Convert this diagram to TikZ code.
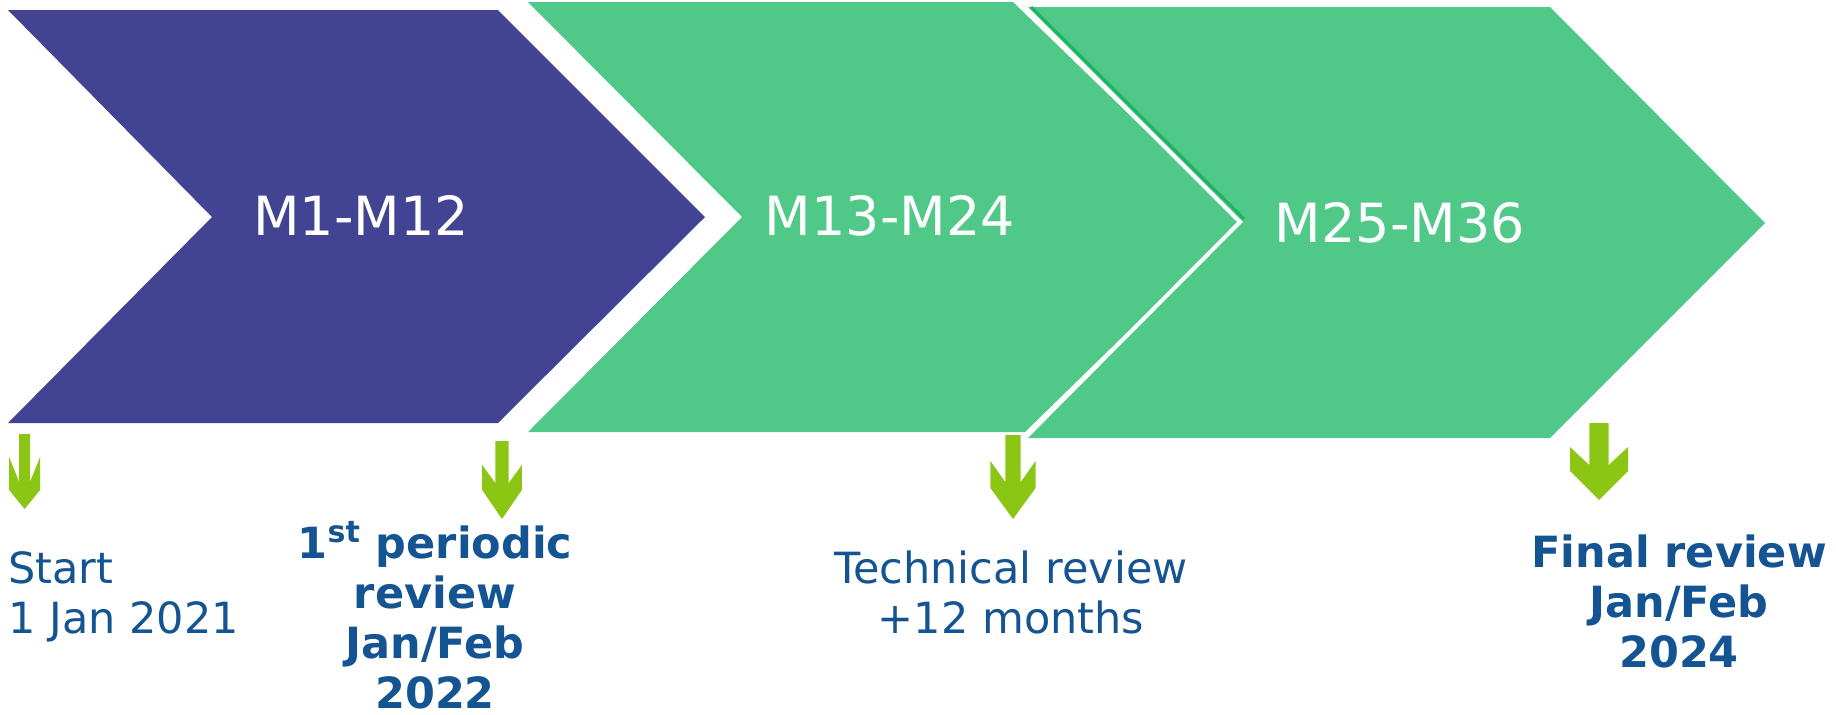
\documentclass[tikz,border=0pt]{standalone}
\usepackage{fontspec}
\setmainfont{DejaVu Sans}

\definecolor{phasepurple}{RGB}{67,67,147}
\definecolor{phasegreen}{RGB}{79,200,136}
\definecolor{edgegreen}{RGB}{28,182,98}
\definecolor{markgreen}{RGB}{140,198,21}
\definecolor{noteblue}{RGB}{21,84,146}

\tikzset{
  phase/.style={text=white, font=\fontsize{27}{32}\selectfont, inner sep=0pt, anchor=base},
  note/.style={text=noteblue, font=\fontsize{21.5}{25}\selectfont, inner sep=0pt, anchor=base, align=center},
  boldnote/.style={note, font=\bfseries\fontsize{21.5}{25}\selectfont}
}

% down arrow: centre x, top y, half shaft, half wing, wing top, shaft bottom, wing bottom, length
\newcommand{\downmark}[8]{%
  \fill[markgreen] ({#1-#3},#2) -- ({#1+#3},#2) -- ({#1+#3},{#2+#6})
    -- ({#1+#4},{#2+#5}) -- ({#1+#4},{#2+#7}) -- (#1,{#2+#8})
    -- ({#1-#4},{#2+#7}) -- ({#1-#4},{#2+#5}) -- ({#1-#3},{#2+#6}) -- cycle;}

\begin{document}
\begin{tikzpicture}[x=0.5pt,y=-0.5pt]
\useasboundingbox (0,0) rectangle (1836,714);

% the three phases
\fill[phasepurple] (8,10) -- (498,10) -- (705,217) -- (498,423) -- (8,423) -- (212,217) -- cycle;
\fill[phasegreen] (528,2) -- (1013,2) -- (1240,222) -- (1025,432) -- (528,432) -- (742,217) -- cycle;
\fill[phasegreen] (1025,7) -- (1550,7) -- (1765,223) -- (1550,438) -- (1025,438) -- (1240,222) -- cycle;
\draw[edgegreen, line width=1.5pt] (1031,7) -- (1244,219);
\draw[white, line width=2pt] (1025,7) -- (1240,222) -- (1025,438);

\node[phase] (m1) at (361,235) {M1-M12};
\node[phase] (m13) at (890,235) {M13-M24};
\node[phase] (m25) at (1400,242) {M25-M36};

% milestones
\downmark{24.6}{434}{5.4}{15.5}{23}{48}{56}{75}
\downmark{502}{441}{6.7}{19.8}{24}{42}{49}{78}
\downmark{1013}{435}{7.7}{22.6}{26}{47}{53}{84}
\downmark{1599}{423}{9.7}{29}{24}{42}{48}{77}

\node[note, anchor=base west, align=left] (start) at (8,633) {Start\\1 Jan 2021};
\node[boldnote] (first) at (435,708) {1\textsuperscript{st} periodic\\review\\Jan/Feb\\2022};
\node[note] (tech) at (1011,633) {Technical review\\+12 months};
\node[boldnote] (final) at (1679,667) {Final review\\Jan/Feb\\2024};
\end{tikzpicture}
\end{document}
